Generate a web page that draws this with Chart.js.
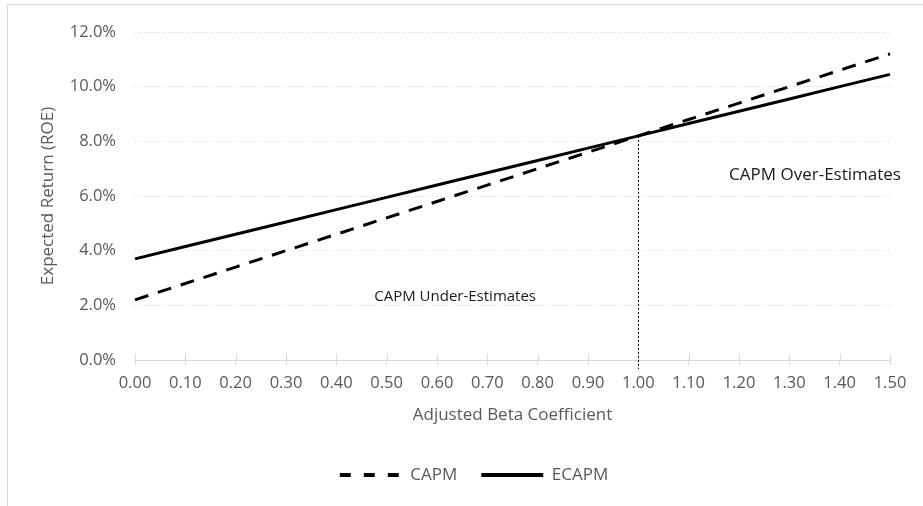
<!DOCTYPE html>
<html>
<head>
<meta charset="utf-8">
<script src="https://cdn.jsdelivr.net/npm/chart.js@4.4.1/dist/chart.umd.min.js"></script>
<style>
    html, body { margin: 0; padding: 0; background: #fff; }
    #wrap { position: relative; width: 923px; height: 506px; }
</style>
</head>
<body>
<div id="wrap"><canvas id="roe-chart" width="923" height="506"></canvas></div>
<script>
// values
const betaLabels = ['0.00', '0.10', '0.20', '0.30', '0.40', '0.50', '0.60', '0.70',
                    '0.80', '0.90', '1.00', '1.10', '1.20', '1.30', '1.40', '1.50']
const capmValues = [2.2, 2.8, 3.4, 4.0, 4.6, 5.2, 5.8, 6.4, 7.0, 7.6, 8.2, 8.8, 9.4, 10.0, 10.6, 11.2]
const ecapmValues = [3.7, 4.15, 4.6, 5.05, 5.5, 5.95, 6.4, 6.85, 7.3, 7.75, 8.2, 8.65, 9.1, 9.55, 10.0, 10.45]
const seriesNames = ['CAPM', 'ECAPM']
const crossBeta = '1.00'
const noteTexts = ['CAPM Under-Estimates', 'CAPM Over-Estimates']

const FONT = "'Open Sans', 'Noto Sans', sans-serif"
const GREY = '#595959'
const LINE_GREY = '#d9d9d9'

const decorPlugin = {
    id: 'decor',
    afterLayout(chart) {
        // legend sits a little right of centre in the original
        chart.legend.left += 14
        chart.legend.right += 14
    },
    beforeDraw(chart) {
        const ctx = chart.ctx
        ctx.save()
        ctx.strokeStyle = LINE_GREY
        ctx.lineWidth = 1
        ctx.beginPath()
        ctx.moveTo(7.5, chart.height)
        ctx.lineTo(7.5, 4.5)
        ctx.lineTo(chart.width, 4.5)
        ctx.stroke()
        ctx.restore()
    },
    beforeDatasetsDraw(chart) {
        const ctx = chart.ctx
        const x = chart.scales.x
        const y = chart.scales.y

        // tick marks reaching above the axis line
        ctx.save()
        ctx.strokeStyle = LINE_GREY
        ctx.lineWidth = 1
        ctx.beginPath()
        x.ticks.forEach((t, i) => {
            const px = Math.round(x.getPixelForTick(i)) + 0.5
            ctx.moveTo(px, x.top - 6)
            ctx.lineTo(px, x.top)
        })
        ctx.stroke()

        // dotted guide at beta = 1
        const idx = betaLabels.indexOf(crossBeta)
        const gx = Math.round(x.getPixelForValue(idx)) + 0.5
        ctx.strokeStyle = '#000'
        ctx.setLineDash([2, 2])
        ctx.beginPath()
        ctx.moveTo(gx, y.getPixelForValue(ecapmValues[idx]))
        ctx.lineTo(gx, x.top + 9)
        ctx.stroke()
        ctx.restore()
    },
    afterDatasetsDraw(chart) {
        const ctx = chart.ctx
        const x = chart.scales.x
        const y = chart.scales.y
        ctx.save()
        ctx.fillStyle = '#1a1a1a'
        ctx.textAlign = 'center'
        ctx.textBaseline = 'middle'
        ctx.font = '15px ' + FONT
        ctx.fillText(noteTexts[0], x.getPixelForValue(6.36), y.getPixelForValue(2.3))
        ctx.font = '17px ' + FONT
        ctx.fillText(noteTexts[1], x.getPixelForValue(13.51), y.getPixelForValue(6.77))
        ctx.restore()
    }
}

const ctx = document.getElementById('roe-chart').getContext('2d')
const roeChart = new Chart(ctx, {
    type: 'line',
    data: {
        labels: betaLabels,
        datasets: [{
            label: seriesNames[0],
            data: capmValues,
            borderColor: '#000',
            backgroundColor: '#000',
            borderWidth: 3,
            borderDash: [14, 10],
            pointRadius: 0,
            pointStyle: 'line',
            fill: false,
            tension: 0
        }, {
            label: seriesNames[1],
            data: ecapmValues,
            borderColor: '#000',
            backgroundColor: '#000',
            borderWidth: 3,
            pointRadius: 0,
            pointStyle: 'line',
            fill: false,
            tension: 0
        }]
    },
    options: {
        responsive: false,
        animation: false,
        devicePixelRatio: 1,
        layout: {
            padding: { left: 30, right: 33, top: 32, bottom: 12.5 }
        },
        plugins: {
            tooltip: { enabled: false },
            legend: {
                position: 'bottom',
                labels: {
                    usePointStyle: true,
                    pointStyleWidth: 62,
                    padding: 24,
                    color: GREY,
                    font: { family: FONT, size: 17 },
                    generateLabels: chart => {
                        const items = Chart.defaults.plugins.legend.labels.generateLabels(chart)
                        return items.map(item => Object.assign(item, {
                            lineWidth: 4,
                            lineDash: item.datasetIndex === 0 ? [11, 13] : []
                        }))
                    }
                }
            }
        },
        scales: {
            x: {
                type: 'category',
                offset: false,
                grid: {
                    display: true,
                    drawOnChartArea: false,
                    tickLength: 5,
                    color: LINE_GREY
                },
                border: { display: true, color: LINE_GREY, width: 1 },
                ticks: {
                    color: GREY,
                    font: { family: FONT, size: 16.5 },
                    padding: 8,
                    maxRotation: 0,
                    autoSkip: false
                },
                title: {
                    display: true,
                    text: 'Adjusted Beta Coefficient',
                    color: GREY,
                    font: { family: FONT, size: 17 },
                    padding: { top: 0, bottom: 17.3 }
                },
                afterFit: scale => { scale.height = 82.5 }
            },
            y: {
                min: 0,
                max: 12,
                grid: {
                    color: LINE_GREY,
                    drawTicks: false
                },
                border: { display: false, dash: [1, 2] },
                ticks: {
                    stepSize: 2,
                    color: GREY,
                    padding: 19,
                    font: { family: FONT, size: 16.5 },
                    callback: v => v.toFixed(1) + '%'
                },
                title: {
                    display: true,
                    text: 'Expected Return (ROE)',
                    color: GREY,
                    font: { family: FONT, size: 17 },
                    padding: { top: 7.8, bottom: 0 }
                },
                afterFit: scale => { scale.width = 105 }
            }
        }
    },
    plugins: [decorPlugin]
})
</script>
</body>
</html>
